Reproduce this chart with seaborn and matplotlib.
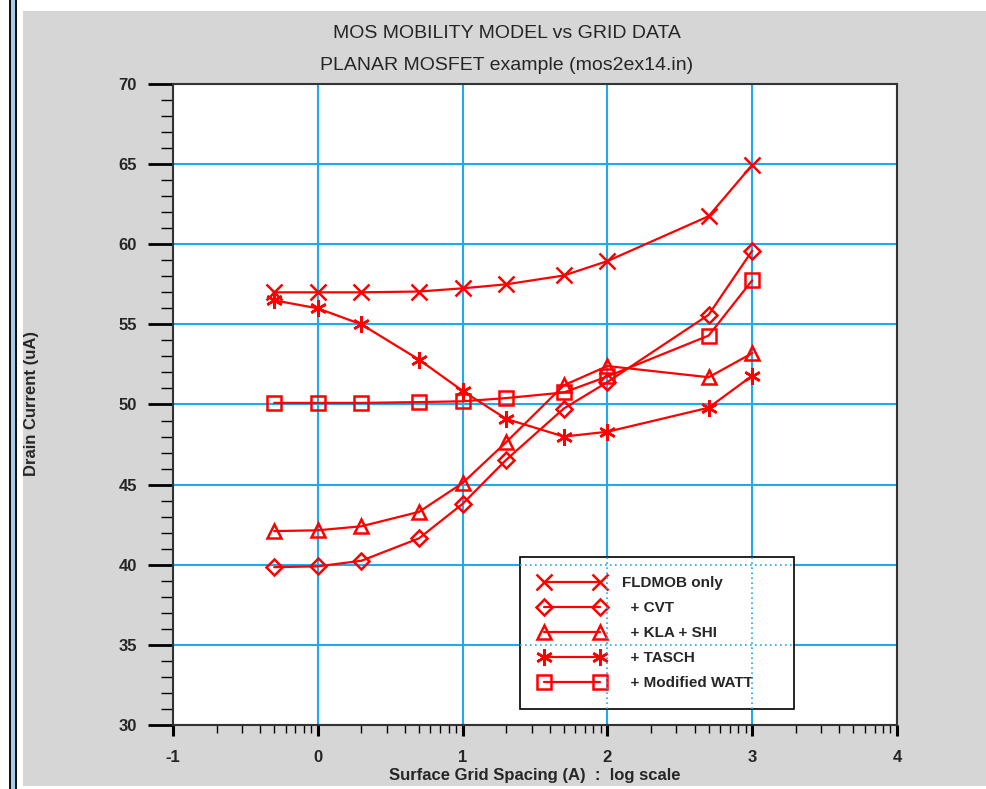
import numpy as np
import pandas as pd
import matplotlib
matplotlib.use("Agg")
import matplotlib.pyplot as plt
from matplotlib.patches import Rectangle
from matplotlib.lines import Line2D
from matplotlib.ticker import FixedLocator, MultipleLocator
import seaborn as sns

# ---- data ----
log_spacing = [-0.301, 0.0, 0.301, 0.699, 1.0, 1.301, 1.699, 2.0, 2.699, 3.0]
fldmob = [57.0, 57.0, 57.0, 57.05, 57.25, 57.5, 58.05, 58.95, 61.75, 64.95]
cvt = [39.85, 39.9, 40.25, 41.65, 43.8, 46.55, 49.75, 51.4, 55.6, 59.6]
kla_shi = [42.1, 42.15, 42.4, 43.3, 45.1, 47.65, 51.2, 52.4, 51.7, 53.2]
tasch = [56.5, 56.0, 55.0, 52.8, 50.85, 49.1, 48.0, 48.3, 49.8, 51.8]
watt = [50.1, 50.1, 50.1, 50.15, 50.2, 50.4, 50.75, 51.75, 54.3, 57.75]
series_labels = ["FLDMOB only", "  + CVT", "  + KLA + SHI", "  + TASCH", "  + Modified WATT"]
x_ticks = [-1, 0, 1, 2, 3, 4]
y_ticks = [30, 35, 40, 45, 50, 55, 60, 65, 70]

sns.set_theme(style="white")
plt.rcParams['font.family'] = ['Liberation Sans', 'DejaVu Sans']

W, H = 987, 789
fig = plt.figure(figsize=(W / 100, H / 100), dpi=100, facecolor="white")

# window background / frame
fig.patches.append(Rectangle((23 / W, 3 / H), (986 - 23) / W, (786 - 11) / H,
                             transform=fig.transFigure, facecolor="#d6d6d6",
                             edgecolor="none", zorder=-10))
fig.patches.append(Rectangle((9 / W, 0), 8 / W, 1, transform=fig.transFigure,
                             facecolor="#a8cce8", edgecolor="none", zorder=-9))
fig.patches.append(Rectangle((9 / W, 0), 2 / W, 1, transform=fig.transFigure,
                             facecolor="#111111", edgecolor="none", zorder=-8))
fig.patches.append(Rectangle((15 / W, 0), 2 / W, 1, transform=fig.transFigure,
                             facecolor="#111111", edgecolor="none", zorder=-8))

L, R, T, B = 173, 897, 84, 725
ax = fig.add_axes([L / W, 1 - B / H, (R - L) / W, (B - T) / H])
ax.set_facecolor("white")

red = "#ff0000"
names = ["FLDMOB", "CVT", "KLA", "TASCH", "WATT"]
values = [fldmob, cvt, kla_shi, tasch, watt]
markers = ["x", "D", "^", (6, 2, 0), "s"]
msizes = [12, 8, 10, 12, 10]

for name, vals, lab, mk, ms in zip(names, values, series_labels, markers, msizes):
    df = pd.DataFrame({"x": log_spacing, "y": vals})
    sns.lineplot(data=df, x="x", y="y", ax=ax, color=red, lw=1.6,
                 marker=mk, markersize=ms, mfc="none", mec=red, mew=1.8,
                 label=lab, zorder=4)

ax.set_xlim(-1, 4)
ax.set_ylim(30, 70)
ax.xaxis.set_major_locator(FixedLocator(x_ticks))
ax.yaxis.set_major_locator(FixedLocator(y_ticks))
ax.yaxis.set_minor_locator(MultipleLocator(1))
minor_x = [k + np.log10(m) for k in range(-1, 4) for m in range(2, 10)]
ax.xaxis.set_minor_locator(FixedLocator(minor_x))

ax.grid(True, which="major", color="#1eaaf0", lw=1.5, zorder=1)
ax.grid(False, which="minor")
ax.set_axisbelow(True)

for s in ax.spines.values():
    s.set_visible(True)
    s.set_color("#333333")
    s.set_linewidth(1.5)

ax.tick_params(axis="y", which="major", direction="out", length=18, width=2,
               color="black", pad=8, labelsize=12, left=True)
ax.tick_params(axis="y", which="minor", direction="out", length=9, width=1,
               color="black", left=True)
ax.tick_params(axis="x", which="major", direction="out", length=8, width=2.2,
               color="black", pad=10, labelsize=12, bottom=True)
ax.tick_params(axis="x", which="minor", direction="out", length=6, width=1,
               color="black", bottom=True)
ax.set_xticklabels([str(v) for v in x_ticks], fontweight="bold")
ax.set_yticklabels([str(v) for v in y_ticks], fontweight="bold")

ax.set_xlabel("Surface Grid Spacing (A)  :  log scale", fontsize=12,
              fontweight="bold", labelpad=2)
ax.set_ylabel("", fontsize=12)
fig.text(32 / W, 1 - 404 / H, "Drain Current (uA)", rotation=90, fontsize=12,
         fontweight="bold", ha="center", va="center")

fig.text(507 / W, 1 - 33 / H, "MOS MOBILITY MODEL vs GRID DATA", fontsize=14,
         ha="center", va="center")
fig.text(507 / W, 1 - 66 / H, "PLANAR MOSFET example (mos2ex14.in)", fontsize=14,
         ha="center", va="center")

# legend
handles = [Line2D([0], [0], color=red, lw=1.6, marker=mk, markersize=ms,
                  mfc="none", mec=red, mew=1.8)
           for mk, ms in zip(markers, msizes)]
x0 = (520 - L) / (R - L)
x1 = (794 - L) / (R - L)
ytop = (B - 557) / (B - T)
leg = ax.legend(handles, series_labels, loc="upper left",
                bbox_to_anchor=(x0, ytop - 0.2, x1 - x0, 0.2), mode="expand",
                numpoints=2, handlelength=4.3, handletextpad=1.1,
                prop={"weight": "bold", "size": 11},
                frameon=True, fancybox=False, framealpha=1, edgecolor="black",
                facecolor="white", borderpad=1.25, labelspacing=0.72,
                borderaxespad=0)
leg.get_frame().set_linewidth(1.2)
leg.set_zorder(6)

# dotted grid lines through the legend box
fig.canvas.draw()
bb = leg.get_window_extent().transformed(ax.transData.inverted())
for xv in x_ticks:
    if bb.x0 < xv < bb.x1:
        ax.plot([xv, xv], [bb.y0, bb.y1], color="#1eaaf0", lw=1.2, ls=(0, (1, 2)), zorder=7)
for yv in y_ticks:
    if bb.y0 < yv < bb.y1:
        ax.plot([bb.x0, bb.x1], [yv, yv], color="#1eaaf0", lw=1.2, ls=(0, (1, 2)), zorder=7)

fig.savefig("out.png", dpi=100, facecolor="white")
